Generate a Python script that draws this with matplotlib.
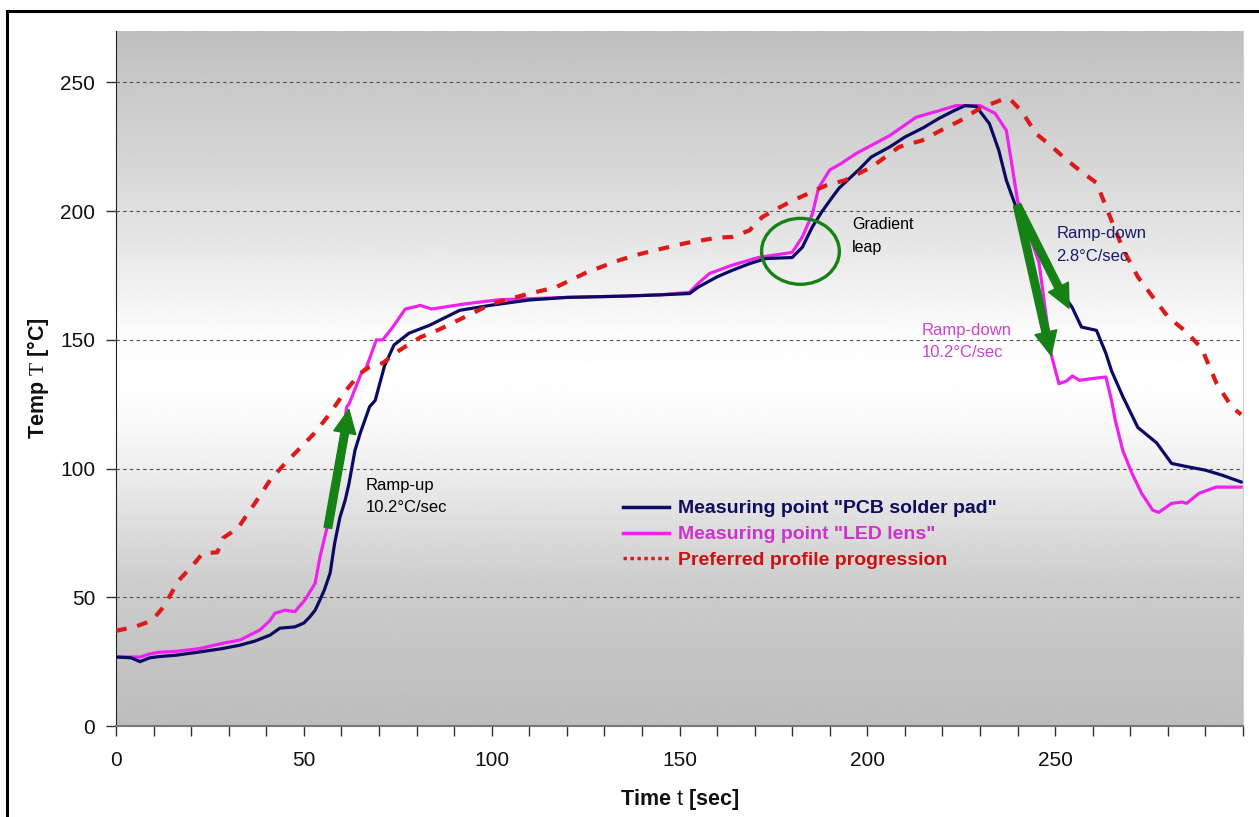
import numpy as np
import matplotlib
matplotlib.use("Agg")
import matplotlib.pyplot as plt
from matplotlib.lines import Line2D
from matplotlib.patches import Ellipse

plt.rcParams['font.family'] = ['Liberation Sans', 'DejaVu Sans']
plt.rcParams['mathtext.fontset'] = 'custom'
plt.rcParams['mathtext.rm'] = 'Liberation Serif'
plt.rcParams['mathtext.sf'] = 'Liberation Sans'

# ---------------- data ----------------
t_profile = [0, 5, 9.6, 12.5, 16.8, 20.5, 23, 27, 28.5, 32.5, 37, 41, 45, 49, 53, 57, 61, 65,
             67.5, 71, 75.5, 81, 86, 93, 100, 109, 117, 125, 133, 138.5, 144, 152, 160, 164,
             168.6, 172, 176, 180, 184.5, 189, 194, 201, 208.5, 214.6, 221, 224.5, 230, 236,
             238, 241, 245, 248.4, 253, 256.4, 261, 264, 268, 272, 277, 280, 285, 289, 293,
             297, 299.5]
T_profile = [37, 38.5, 41, 46, 56.7, 62.5, 67, 67.5, 73, 77, 86.6, 95.5, 102, 108, 114, 121.5,
             130, 137, 139.5, 141, 146, 151, 154, 159, 164, 167.6, 170.4, 176, 180.5, 183, 185,
             187.7, 189.7, 190, 192.5, 197.7, 201, 204, 207, 210, 212, 217, 225, 227.5, 232.5,
             235, 240, 243.4, 243.5, 239, 230, 226, 220, 216, 211, 200, 185.5, 174.5, 164.7,
             159, 153, 146.7, 133, 124, 121]

t_pcb = [0, 4, 6.4, 9, 11.7, 16, 22, 28, 33, 37, 41, 43.6, 47.6, 50, 51.6, 53, 54.3, 55.5, 57,
         58.2, 59.6, 61, 62, 63.6, 65, 67.5, 69, 71.5, 74, 78, 83.5, 91.5, 100, 110, 120, 135,
         145, 152.7, 155, 160, 164, 168.6, 173, 180, 182.7, 185.4, 188, 190.7, 192.5, 198, 201,
         206, 210, 215, 219, 223, 226, 229, 232.5, 235, 237, 239.6, 242, 245.7, 250, 254.5,
         257, 261, 263.5, 265, 268, 272, 277, 281, 285.6, 290, 294.5, 299.5]
T_pcb = [26.8, 26.5, 25, 26.5, 27, 27.5, 28.7, 30, 31.4, 33, 35.3, 38, 38.5, 40, 42.4, 45, 49,
         53, 59.4, 71, 81, 87.7, 94, 107, 113.7, 124, 126.5, 140, 148, 152.6, 155.7, 161.5,
         163.5, 165.5, 166.5, 167, 167.5, 168, 170.5, 174.5, 177, 179.6, 181.6, 182, 186, 194,
         200, 205.5, 209, 216.5, 221, 225, 228.8, 232.5, 236, 239, 241, 240.7, 234, 223.6, 212,
         201.5, 194, 183.6, 172, 162.7, 155, 153.7, 144.8, 138, 128, 116, 110, 102, 100.6,
         99.4, 97.4, 94.8]

t_led = [0, 6.4, 9, 11.7, 16, 22, 28, 33, 38.3, 41, 42.3, 45, 47.6, 50.3, 53, 54.3, 56, 58,
         60, 61.4, 62, 65.3, 66.7, 69.3, 71, 73.7, 77, 80, 81, 84, 93, 102, 110, 120, 135, 145,
         152.7, 155, 158, 164, 171, 180, 182.7, 185.4, 187, 190, 193, 197, 206, 213, 219,
         223.6, 230, 234, 237, 238.6, 240, 243.6, 245.7, 249, 251, 253, 254.6, 256.4, 260,
         263.5, 265, 266, 268, 270.5, 273, 276, 277.6, 281, 283.8, 285, 288.3, 292.8, 299.5]
T_led = [26.8, 26.8, 28, 28.7, 29, 30, 32, 33.4, 37.3, 41, 43.8, 45, 44.4, 49, 55.4, 65.7, 76,
         90, 108, 124, 125, 137, 139.5, 150, 150, 155, 162, 163, 163.4, 162, 164, 165.6, 166,
         166.5, 167, 167.5, 168.5, 172, 175.8, 179, 182, 184, 190, 199, 209, 216, 218.5, 222.4,
         229.4, 236.5, 239, 241, 241, 238, 231.4, 217, 204, 189, 180, 144, 133, 134, 136,
         134.3, 135, 135.6, 126.5, 118.8, 107, 98, 90.4, 83.8, 83, 86.5, 87, 86.5, 90.4, 92.8,
         92.8]

x_ticks = [0, 50, 100, 150, 200, 250]
y_ticks = [0, 50, 100, 150, 200, 250]
legend_labels = ['Measuring point "PCB solder pad"', 'Measuring point "LED lens"',
                 'Preferred profile progression']

# ---------------- style ----------------
NAVY = '#0b0b63'
MAGENTA = '#ee22ee'
RED = '#dd1a1a'
GREEN = '#168216'

W, H = 1259, 817
fig = plt.figure(figsize=(W / 100, H / 100), dpi=100)
fig.patch.set_facecolor('white')
ax = fig.add_axes([116 / W, (H - 726) / H, (1243 - 116) / W, (726 - 31) / H])

# gradient background
fr = np.linspace(0, 1, 400)
gvals = np.interp(fr, [0, 0.2, 0.42, 0.5, 0.56, 0.75, 1.0],
                  [0.74, 0.80, 0.97, 1.0, 0.99, 0.87, 0.75])
img = np.repeat(gvals[:, None], 2, axis=1)
ax.imshow(img, extent=(0, 1, 0, 1), transform=ax.transAxes, origin='lower',
          cmap='gray', vmin=0, vmax=1, aspect='auto', zorder=0, interpolation='bilinear')

ax.set_xlim(0, 300)
ax.set_ylim(0, 270)

for y in y_ticks[1:]:
    ax.axhline(y, color='#505050', lw=0.8, dashes=(3, 3), zorder=1)

ax.plot(t_led, T_led, color=MAGENTA, lw=2.3, zorder=3)
ax.plot(t_pcb, T_pcb, color=NAVY, lw=2.3, zorder=4)
ax.plot(t_profile, T_profile, color=RED, lw=3.0, dashes=(2.6, 2.6), zorder=5)

# arrows
arrow_style = 'simple,head_length=1.7,head_width=1.6,tail_width=0.55'
for base, tip in [((56.4, 77), (62, 123)),
                  ((239.9, 202.3), (253.7, 162.3)),
                  ((239.9, 202.3), (248.9, 144))]:
    ax.annotate('', xy=tip, xytext=base,
                arrowprops=dict(arrowstyle=arrow_style, color=GREEN, shrinkA=0, shrinkB=0,
                                mutation_scale=10), zorder=6)

ax.add_patch(Ellipse((182.2, 184.4), width=20.7, height=25.6, fill=False,
                     edgecolor=GREEN, lw=2.4, zorder=6))

# annotations
ax.text(66.5, 93.6, 'Ramp-up', fontsize=12, color='black', va='center', ha='left', zorder=7)
ax.text(66.5, 85.0, '10.2°C/sec', fontsize=12, color='black', va='center', ha='left', zorder=7)
ax.text(196, 194.9, 'Gradient', fontsize=11.5, color='black', va='center', ha='left', zorder=7)
ax.text(196, 186.0, 'leap', fontsize=11.5, color='black', va='center', ha='left', zorder=7)
ax.text(250.3, 191.4, 'Ramp-down', fontsize=12, color='#1a1a66', va='center', ha='left', zorder=7)
ax.text(250.3, 182.5, '2.8°C/sec', fontsize=12, color='#1a1a66', va='center', ha='left', zorder=7)
ax.text(214.4, 153.7, 'Ramp-down', fontsize=12, color='#cc44cc', va='center', ha='left', zorder=7)
ax.text(214.4, 145.2, '10.2°C/sec', fontsize=12, color='#cc44cc', va='center', ha='left', zorder=7)

# axes styling
ax.set_xticks(x_ticks)
ax.set_xticks(np.arange(0, 301, 10), minor=True)
ax.set_yticks(y_ticks)
ax.tick_params(axis='x', which='both', direction='out', length=7, width=1, color='#333333',
               pad=11, labelsize=15, labelcolor='#111111')
ax.tick_params(axis='y', which='both', direction='out', length=7, width=1, color='#333333',
               pad=8, labelsize=15, labelcolor='#111111')
ax.spines['top'].set_visible(False)
ax.spines['right'].set_color('#d0d0d0')
ax.spines['left'].set_color('#222222')
ax.spines['bottom'].set_color('#777777')
ax.spines['bottom'].set_linewidth(1.5)

# legend
handles = [Line2D([], [], color=NAVY, lw=2.5),
           Line2D([], [], color=MAGENTA, lw=2.5),
           Line2D([], [], color=RED, lw=2.5, dashes=(1, 1))]
leg = ax.legend(handles, legend_labels, loc='upper left',
                bbox_to_anchor=(613 / W, (H - 490) / H), bbox_transform=fig.transFigure,
                frameon=False, borderpad=0, handlelength=2.4, handletextpad=0.42,
                labelspacing=0.43, prop={'weight': 'bold', 'size': 14})
for txt, c in zip(leg.get_texts(), ['#0d0d5e', '#cc33cc', '#cc1111']):
    txt.set_color(c)

# axis labels
fig.text(680 / W, (H - 800) / H, r'Time $\mathsf{t}$ [sec]', fontsize=15.5, fontweight='bold',
         ha='center', va='center', color='#111111')
fig.text(38 / W, (H - 378) / H, r'Temp $\mathrm{T}$ [°C]', fontsize=15.5, fontweight='bold',
         ha='center', va='center', rotation=90, color='#111111')

# outer frame (left and top edges)
fig.add_artist(Line2D([7 / W, 7 / W], [0, (H - 11) / H], transform=fig.transFigure,
                      color='black', lw=2.2))
fig.add_artist(Line2D([7 / W, 1], [(H - 11) / H, (H - 11) / H], transform=fig.transFigure,
                      color='black', lw=2.2))

fig.savefig('out.png', dpi=100)
